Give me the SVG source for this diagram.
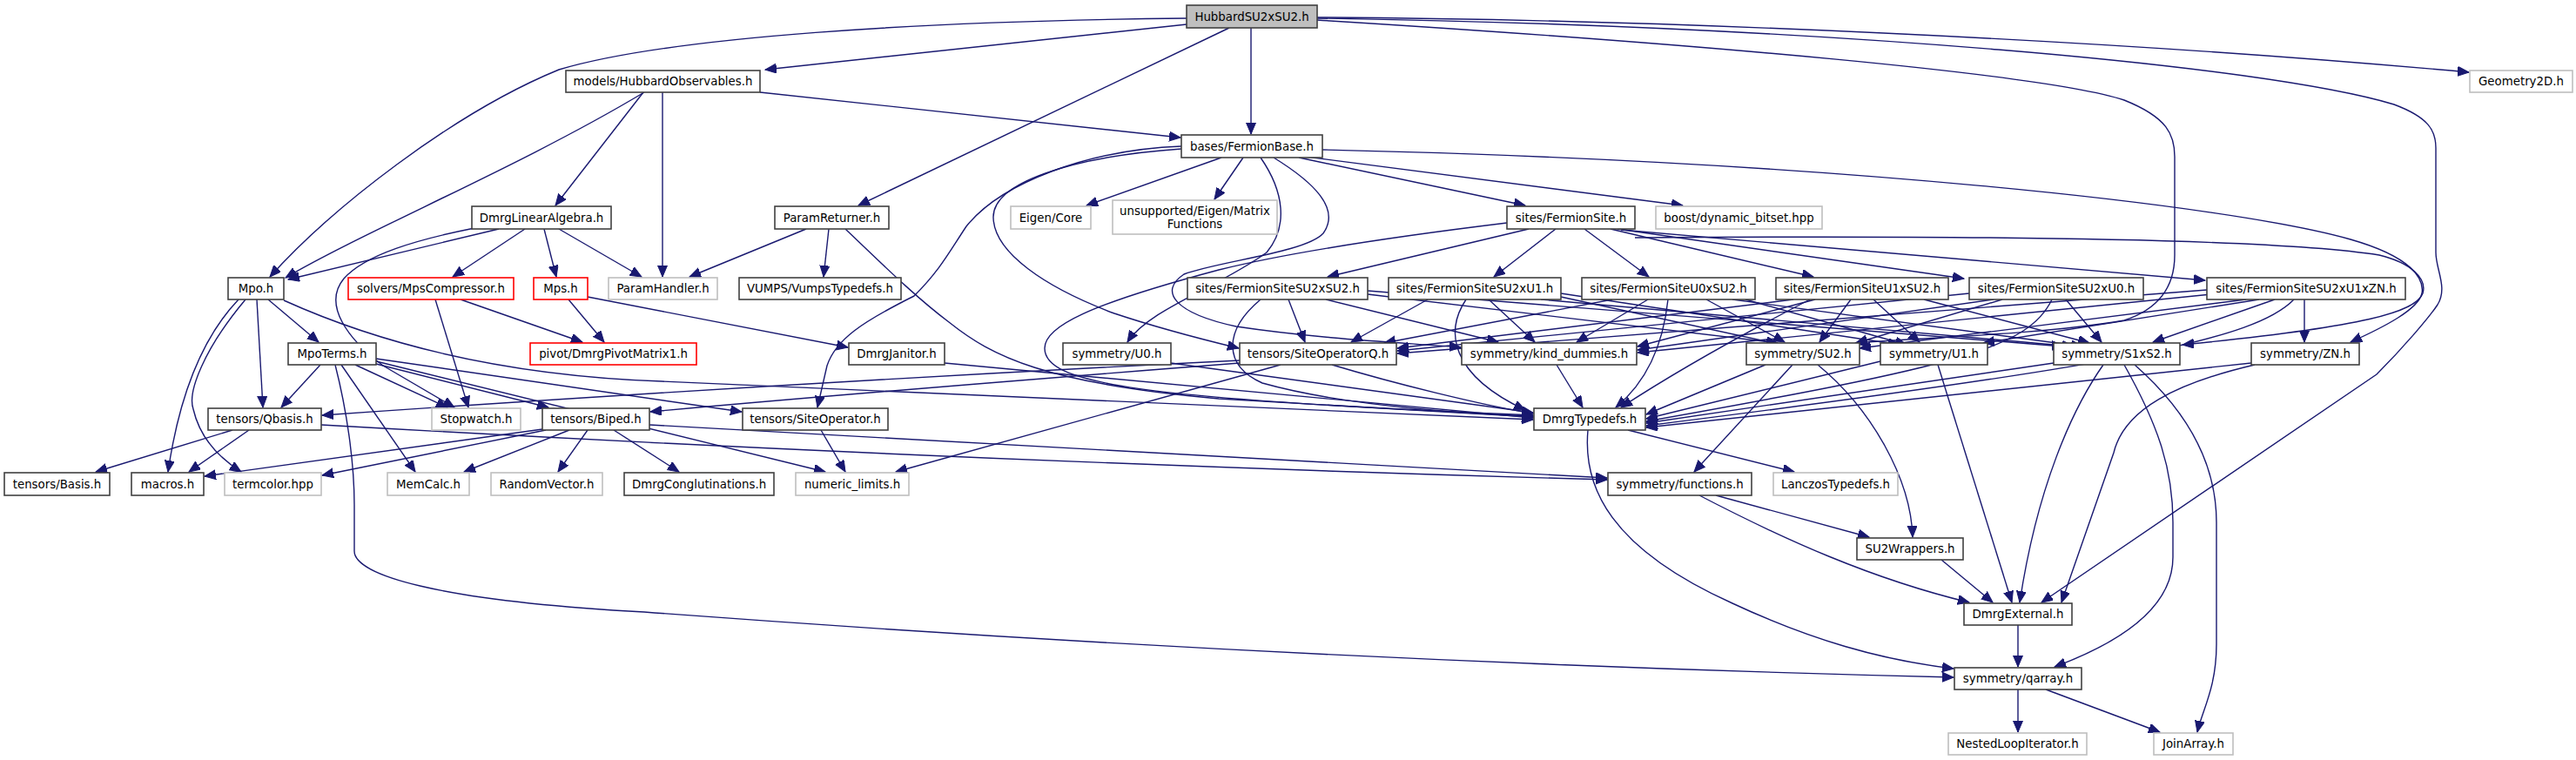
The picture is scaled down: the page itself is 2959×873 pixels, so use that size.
<svg xmlns="http://www.w3.org/2000/svg" width="2959" height="873" viewBox="0 0 2959 873">
<style>
.n rect{fill:#fff;stroke:#404040;stroke-width:1.6}
.g rect{stroke:#bfbfbf}
.r rect{stroke:#ff0000}
.root rect{fill:#bfbfbf}
text{font-family:"DejaVu Sans","Liberation Sans",sans-serif;font-size:13.33px;text-anchor:middle;fill:#000}
.e path{fill:none;stroke:#191970;stroke-width:1.4;marker-end:url(#a)}
</style>
<defs>
<marker id="a" markerUnits="userSpaceOnUse" markerWidth="14" markerHeight="12" refX="13" refY="5.5" orient="auto">
<path d="M0,0 L13,5.5 L0,11 z" fill="#191970" stroke="#191970" stroke-width="1"/>
</marker>
</defs>
<rect width="2959" height="873" fill="#fff"/>
<g id="edges" class="e">
<path d="M1363,28 L879,80"/>
<path d="M1363,21 C1060,24 770,42 642,80 C520,130 380,240 310,318"/>
<path d="M1412,32 L986,236"/>
<path d="M1437,32 L1437,154"/>
<path d="M1513,20 C1900,22 2420,45 2836,83"/>
<path d="M1513,23 C1950,50 2350,85 2440,115 C2490,135 2498,155 2498,180 L2498,293 C2498,330 2480,355 2440,368 C2340,385 2200,388 2131,394"/>
<path d="M1513,21 C2100,30 2600,75 2750,120 C2790,135 2798,150 2798,170 L2798,290 C2798,310 2812,330 2800,350 C2790,365 2760,400 2730,430 L2345,692"/>
<path d="M1357,168 C1250,172 1150,210 1110,260 C1090,290 1080,310 1050,340 C990,370 960,390 950,420 L939,468"/>
<path d="M1357,171 C1230,180 1140,210 1141,250 C1142,290 1200,330 1280,360 C1340,380 1390,392 1423,400"/>
<path d="M1403,181 L1248,236"/>
<path d="M1428,181 L1395,229"/>
<path d="M1448,181 C1475,220 1480,260 1455,290 C1400,330 1320,355 1295,393"/>
<path d="M1463,181 C1510,210 1540,240 1520,268 C1500,290 1400,300 1360,315 C1330,335 1350,360 1420,375 C1520,390 1620,394 1678,399"/>
<path d="M1492,181 L1752,236"/>
<path d="M1500,180 L1933,236"/>
<path d="M1519,172 C2100,185 2560,235 2700,275 C2770,295 2785,320 2782,337 C2778,355 2740,375 2700,393"/>
<path d="M740,106 C600,190 420,265 328,319"/>
<path d="M739,106 L638,236"/>
<path d="M761,106 L761,318"/>
<path d="M873,106 L1356,158"/>
<path d="M573,263 L331,321"/>
<path d="M545,262 C480,275 420,292 395,320 C370,350 400,390 440,420 L522,468"/>
<path d="M603,263 L520,318"/>
<path d="M625,263 L639,318"/>
<path d="M642,263 L737,318"/>
<path d="M926,263 L792,318"/>
<path d="M952,263 L946,318"/>
<path d="M971,263 C1010,300 1050,340 1090,370 C1140,410 1200,440 1400,458 L1761,479"/>
<path d="M653,344 L694,393"/>
<path d="M675,341 L974,399"/>
<path d="M529,344 L669,393"/>
<path d="M500,344 L538,468"/>
<path d="M1085,417 L1761,480"/>
<path d="M274,344 C230,390 205,460 193,542"/>
<path d="M282,344 C235,400 215,450 222,470 C230,505 255,528 277,542"/>
<path d="M295,344 L302,468"/>
<path d="M308,344 L366,393"/>
<path d="M326,345 C470,410 620,433 760,438 L1761,482"/>
<path d="M368,419 L323,468"/>
<path d="M385,419 C398,470 407,530 407,580 L407,633 C407,660 500,690 740,703 Q1500,760 2244,778"/>
<path d="M392,419 L477,542"/>
<path d="M408,419 L514,468"/>
<path d="M432,418 L630,468"/>
<path d="M432,412 L852,473"/>
<path d="M432,415 L948,542"/>
<path d="M267,494 L110,542"/>
<path d="M286,494 L217,542"/>
<path d="M369,488 Q1100,530 1846,551"/>
<path d="M623,493 L235,547"/>
<path d="M627,494 L370,546"/>
<path d="M654,494 L533,542"/>
<path d="M675,494 L641,542"/>
<path d="M705,494 L780,542"/>
<path d="M746,488 Q1300,520 1846,549"/>
<path d="M943,494 L971,542"/>
<path d="M1424,414 Q900,440 370,477"/>
<path d="M1424,417 Q1000,450 747,473"/>
<path d="M1471,419 L1029,542"/>
<path d="M1530,419 C1600,440 1700,465 1761,475"/>
<path d="M1345,417 L1761,474"/>
<path d="M1788,419 L1818,468"/>
<path d="M2028,419 L1891,476"/>
<path d="M2059,419 L1946,542"/>
<path d="M2088,419 C2150,470 2195,550 2197,617"/>
<path d="M2160,415 L1891,481"/>
<path d="M2226,419 L2311,692"/>
<path d="M2359,417 L1891,486"/>
<path d="M2416,419 C2380,470 2340,560 2320,692"/>
<path d="M2440,419 C2480,490 2496,540 2496,600 L2496,640 C2496,700 2430,740 2360,766"/>
<path d="M2452,419 C2510,470 2546,530 2546,600 L2546,740 C2546,790 2530,815 2524,841"/>
<path d="M2586,417 L1891,491"/>
<path d="M2590,419 C2500,440 2440,470 2428,520 L2368,692"/>
<path d="M1952,569 C2050,620 2150,665 2262,692"/>
<path d="M1971,569 L2147,617"/>
<path d="M2230,643 L2289,692"/>
<path d="M1870,494 L2061,542"/>
<path d="M1824,494 C1818,560 1850,630 1990,693 C2080,735 2160,758 2244,768"/>
<path d="M2318,718 L2318,766"/>
<path d="M2318,792 L2318,841"/>
<path d="M2350,792 L2481,841"/>
<path d="M1731,256 C1600,272 1480,290 1400,310 C1250,350 1200,375 1200,400 C1200,440 1300,458 1761,477"/>
<path d="M1756,263 L1525,318"/>
<path d="M1787,263 L1716,318"/>
<path d="M1820,263 L1894,318"/>
<path d="M1850,263 L2083,318"/>
<path d="M1858,263 L2256,320"/>
<path d="M1862,264 L2533,322"/>
<path d="M1878,273 C2300,270 2620,275 2733,293 C2770,302 2788,320 2783,337 C2775,358 2720,375 2507,396"/>
<path d="M1480,344 L1499,393"/>
<path d="M1523,344 L1721,393"/>
<path d="M1571,338 L2042,394"/>
<path d="M1571,334 L2370,398"/>
<path d="M1448,344 C1405,380 1405,420 1450,440 C1550,468 1700,476 1761,478"/>
<path d="M1640,344 L1552,393"/>
<path d="M1710,344 L1763,393"/>
<path d="M1793,341 L2042,395"/>
<path d="M1793,337 L2182,396"/>
<path d="M1770,344 L2382,398"/>
<path d="M1684,344 C1660,380 1665,430 1752,471"/>
<path d="M1852,344 L1590,394"/>
<path d="M1893,344 L1811,393"/>
<path d="M1960,344 L2050,393"/>
<path d="M1990,344 L2392,398"/>
<path d="M1916,344 C1910,400 1890,440 1856,468"/>
<path d="M2005,344 L2190,396"/>
<path d="M2060,344 L1605,400"/>
<path d="M2085,344 L1881,398"/>
<path d="M2126,344 L2090,393"/>
<path d="M2152,344 L2205,393"/>
<path d="M2210,344 L2400,394"/>
<path d="M2079,344 C1990,390 1920,430 1862,468"/>
<path d="M2262,337 L1605,403"/>
<path d="M2290,344 L1881,402"/>
<path d="M2300,344 L2132,394"/>
<path d="M2373,344 L2414,393"/>
<path d="M2357,344 C2330,400 2250,420 1891,484"/>
<path d="M2535,333 L1605,406"/>
<path d="M2540,338 L1881,405"/>
<path d="M2580,344 L2136,400"/>
<path d="M2595,344 L2278,394"/>
<path d="M2613,344 L2473,393"/>
<path d="M2647,344 L2647,393"/>
<path d="M2635,344 C2590,390 2440,420 1891,489"/>
</g>
<g id="n_hub" class="n root"><rect x="1363" y="6" width="150" height="26"/><text x="1438" y="24">HubbardSU2xSU2.h</text></g>
<g id="n_obs" class="n"><rect x="650" y="81" width="223" height="25"/><text x="761.5" y="98">models/HubbardObservables.h</text></g>
<g id="n_geo" class="n g"><rect x="2837" y="81" width="118" height="25"/><text x="2896" y="98">Geometry2D.h</text></g>
<g id="n_fbase" class="n"><rect x="1357" y="155" width="162" height="26"/><text x="1438" y="173">bases/FermionBase.h</text></g>
<g id="n_dla" class="n"><rect x="542" y="237" width="160" height="26"/><text x="622" y="255">DmrgLinearAlgebra.h</text></g>
<g id="n_pret" class="n"><rect x="890" y="237" width="131" height="26"/><text x="955.5" y="255">ParamReturner.h</text></g>
<g id="n_eig" class="n g"><rect x="1161" y="237" width="92" height="26"/><text x="1207" y="255">Eigen/Core</text></g>
<g id="n_unsup" class="n g"><rect x="1278" y="230" width="189" height="39"/><text x="1372.5" y="247">unsupported/Eigen/Matrix</text><text x="1372.5" y="262">Functions</text></g>
<g id="n_fsite" class="n"><rect x="1731" y="237" width="147" height="26"/><text x="1804.5" y="255">sites/FermionSite.h</text></g>
<g id="n_boost" class="n g"><rect x="1902" y="237" width="191" height="26"/><text x="1997.5" y="255">boost/dynamic_bitset.hpp</text></g>
<g id="n_mpo" class="n"><rect x="262" y="319" width="64" height="25"/><text x="294" y="336">Mpo.h</text></g>
<g id="n_mpscomp" class="n r"><rect x="400" y="319" width="190" height="25"/><text x="495" y="336">solvers/MpsCompressor.h</text></g>
<g id="n_mps" class="n r"><rect x="613" y="319" width="62" height="25"/><text x="644" y="336">Mps.h</text></g>
<g id="n_phand" class="n g"><rect x="699" y="319" width="125" height="25"/><text x="761.5" y="336">ParamHandler.h</text></g>
<g id="n_vumps" class="n"><rect x="849" y="319" width="186" height="25"/><text x="942" y="336">VUMPS/VumpsTypedefs.h</text></g>
<g id="n_s1" class="n"><rect x="1364" y="319" width="207" height="25"/><text x="1467.5" y="336">sites/FermionSiteSU2xSU2.h</text></g>
<g id="n_s2" class="n"><rect x="1595" y="319" width="198" height="25"/><text x="1694" y="336">sites/FermionSiteSU2xU1.h</text></g>
<g id="n_s3" class="n"><rect x="1817" y="319" width="199" height="25"/><text x="1916.5" y="336">sites/FermionSiteU0xSU2.h</text></g>
<g id="n_s4" class="n"><rect x="2040" y="319" width="198" height="25"/><text x="2139" y="336">sites/FermionSiteU1xSU2.h</text></g>
<g id="n_s5" class="n"><rect x="2262" y="319" width="200" height="25"/><text x="2362" y="336">sites/FermionSiteSU2xU0.h</text></g>
<g id="n_s6" class="n"><rect x="2535" y="319" width="228" height="25"/><text x="2649" y="336">sites/FermionSiteSU2xU1xZN.h</text></g>
<g id="n_mpoterms" class="n"><rect x="331" y="394" width="101" height="25"/><text x="381.5" y="411">MpoTerms.h</text></g>
<g id="n_pivot" class="n r"><rect x="609" y="394" width="191" height="25"/><text x="704.5" y="411">pivot/DmrgPivotMatrix1.h</text></g>
<g id="n_janitor" class="n"><rect x="975" y="394" width="110" height="25"/><text x="1030" y="411">DmrgJanitor.h</text></g>
<g id="n_u0" class="n"><rect x="1221" y="394" width="124" height="25"/><text x="1283" y="411">symmetry/U0.h</text></g>
<g id="n_sopq" class="n"><rect x="1424" y="394" width="180" height="25"/><text x="1514" y="411">tensors/SiteOperatorQ.h</text></g>
<g id="n_kind" class="n"><rect x="1679" y="394" width="201" height="25"/><text x="1779.5" y="411">symmetry/kind_dummies.h</text></g>
<g id="n_su2" class="n"><rect x="2006" y="394" width="130" height="25"/><text x="2071" y="411">symmetry/SU2.h</text></g>
<g id="n_u1" class="n"><rect x="2160" y="394" width="123" height="25"/><text x="2221.5" y="411">symmetry/U1.h</text></g>
<g id="n_s1xs2" class="n"><rect x="2359" y="394" width="145" height="25"/><text x="2431.5" y="411">symmetry/S1xS2.h</text></g>
<g id="n_zn" class="n"><rect x="2586" y="394" width="124" height="25"/><text x="2648" y="411">symmetry/ZN.h</text></g>
<g id="n_qbasis" class="n"><rect x="239" y="469" width="130" height="25"/><text x="304" y="486">tensors/Qbasis.h</text></g>
<g id="n_stopwatch" class="n g"><rect x="496" y="469" width="102" height="25"/><text x="547" y="486">Stopwatch.h</text></g>
<g id="n_biped" class="n"><rect x="623" y="469" width="123" height="25"/><text x="684.5" y="486">tensors/Biped.h</text></g>
<g id="n_sop" class="n"><rect x="853" y="469" width="167" height="25"/><text x="936.5" y="486">tensors/SiteOperator.h</text></g>
<g id="n_dtypedefs" class="n"><rect x="1762" y="469" width="128" height="25"/><text x="1826" y="486">DmrgTypedefs.h</text></g>
<g id="n_basis" class="n"><rect x="5" y="543" width="121" height="26"/><text x="65.5" y="561">tensors/Basis.h</text></g>
<g id="n_macros" class="n"><rect x="151" y="543" width="83" height="26"/><text x="192.5" y="561">macros.h</text></g>
<g id="n_termcolor" class="n g"><rect x="258" y="543" width="111" height="26"/><text x="313.5" y="561">termcolor.hpp</text></g>
<g id="n_memcalc" class="n g"><rect x="445" y="543" width="94" height="26"/><text x="492" y="561">MemCalc.h</text></g>
<g id="n_randvec" class="n g"><rect x="564" y="543" width="128" height="26"/><text x="628" y="561">RandomVector.h</text></g>
<g id="n_conglut" class="n"><rect x="717" y="543" width="172" height="26"/><text x="803" y="561">DmrgConglutinations.h</text></g>
<g id="n_numlim" class="n g"><rect x="914" y="543" width="130" height="26"/><text x="979" y="561">numeric_limits.h</text></g>
<g id="n_functions" class="n"><rect x="1847" y="543" width="165" height="26"/><text x="1929.5" y="561">symmetry/functions.h</text></g>
<g id="n_lanczos" class="n g"><rect x="2037" y="543" width="143" height="26"/><text x="2108.5" y="561">LanczosTypedefs.h</text></g>
<g id="n_su2wrap" class="n"><rect x="2133" y="618" width="122" height="25"/><text x="2194" y="635">SU2Wrappers.h</text></g>
<g id="n_dext" class="n"><rect x="2256" y="693" width="124" height="25"/><text x="2318" y="710">DmrgExternal.h</text></g>
<g id="n_qarray" class="n"><rect x="2245" y="767" width="146" height="25"/><text x="2318" y="784">symmetry/qarray.h</text></g>
<g id="n_nested" class="n g"><rect x="2238" y="842" width="159" height="25"/><text x="2317.5" y="859">NestedLoopIterator.h</text></g>
<g id="n_join" class="n g"><rect x="2474" y="842" width="91" height="25"/><text x="2519.5" y="859">JoinArray.h</text></g>
</svg>
